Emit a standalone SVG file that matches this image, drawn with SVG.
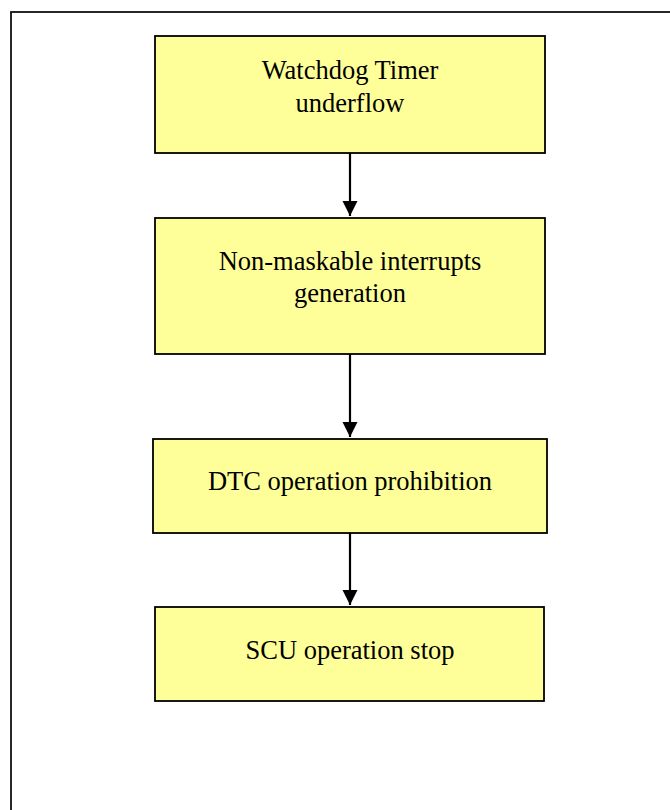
<svg xmlns="http://www.w3.org/2000/svg" width="670" height="810" viewBox="0 0 670 810">
  <defs>
    <style>
      .box { fill: #FFFF99; stroke: #000; stroke-width: 1.8; }
      .lbl { font-family: "Liberation Serif", "Times New Roman", serif; font-size: 26.5px; fill: #000; text-anchor: middle; }
      .conn { stroke: #000; stroke-width: 2.2; fill: none; }
      .frame { fill: #fff; stroke: #111; stroke-width: 1.8; }
    </style>
    <marker id="arrow" markerUnits="userSpaceOnUse" markerWidth="16" markerHeight="16" refX="15" refY="7.5" orient="auto">
      <path d="M0,0 L15,7.5 L0,15 Z" fill="#000"/>
    </marker>
  </defs>
  <rect x="0" y="0" width="670" height="810" fill="#fff"/>
  <rect class="frame" x="11" y="12" width="720" height="860"/>

  <g id="node-watchdog">
    <rect class="box" x="155" y="36" width="390" height="117"/>
    <text class="lbl" x="350" y="79">Watchdog Timer</text>
    <text class="lbl" x="350" y="112">underflow</text>
  </g>
  <g id="node-nmi">
    <rect class="box" x="155" y="218" width="390" height="136"/>
    <text class="lbl" x="350" y="270">Non-maskable interrupts</text>
    <text class="lbl" x="350" y="302">generation</text>
  </g>
  <g id="node-dtc">
    <rect class="box" x="153" y="439" width="394" height="94"/>
    <text class="lbl" x="350" y="490">DTC operation prohibition</text>
  </g>
  <g id="node-scu">
    <rect class="box" x="155" y="607" width="389" height="94"/>
    <text class="lbl" x="350" y="659">SCU operation stop</text>
  </g>

  <g id="connectors">
    <line class="conn" x1="350" y1="153" x2="350" y2="216" marker-end="url(#arrow)"/>
    <line class="conn" x1="350" y1="354" x2="350" y2="437" marker-end="url(#arrow)"/>
    <line class="conn" x1="350" y1="533" x2="350" y2="605" marker-end="url(#arrow)"/>
  </g>
</svg>
